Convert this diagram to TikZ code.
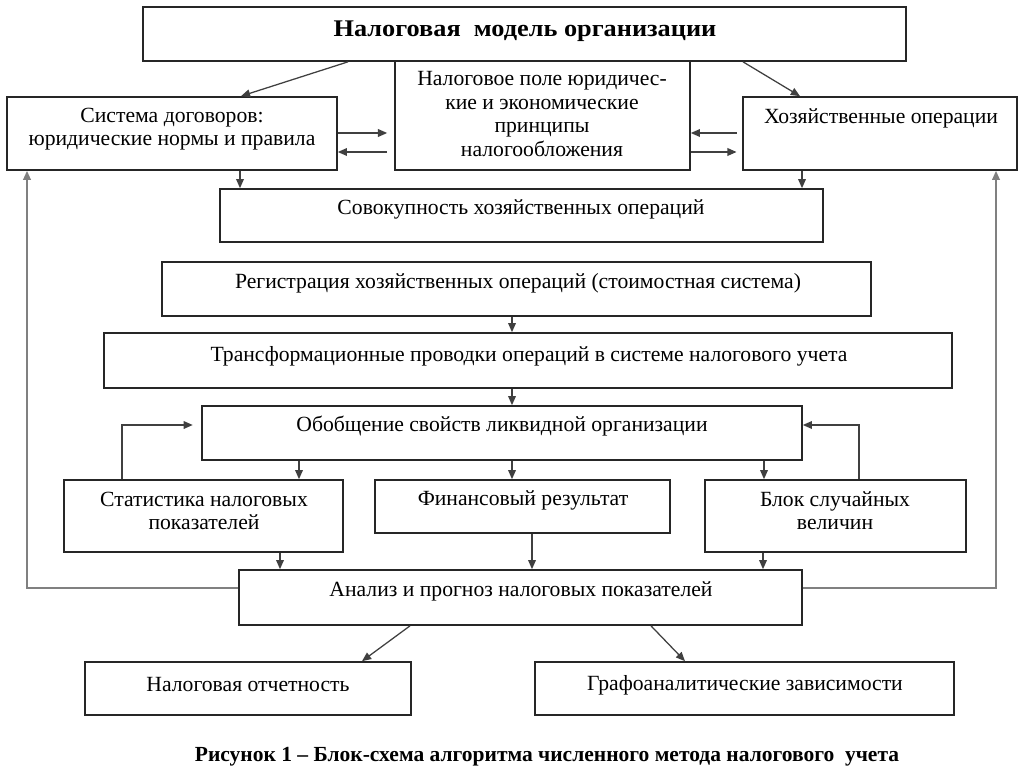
\documentclass[tikz,border=0pt]{standalone}
\usepackage{fontspec}
\setmainfont{Liberation Serif}
\usetikzlibrary{arrows.meta,fit}

\tikzset{
  box/.style={draw=black!85, line width=1.2pt, inner sep=0pt},
  txt/.style={align=center, inner sep=0pt, font=\fontsize{15.4}{16.5}\selectfont},
  arr/.style={-{Triangle[length=6.5pt,width=5.5pt]}, line width=0.9pt, draw=black!75},
  back/.style={arr, draw=black!50, line width=1.2pt},
}

\begin{document}
\begin{tikzpicture}[x=0.025cm,y=-0.025cm]
   \useasboundingbox (0,0) rectangle (1024,767);
   % boxes
   \node[box, fit={(143,7) (906,61)}] (title) {};
   \node[box, fit={(7,97) (337,170)}] (sys) {};
   \node[box, fit={(395,61) (690,170)}] (field) {};
   \node[box, fit={(743,97) (1017,170)}] (ops) {};
   \node[box, fit={(220,189) (823,242)}] (sum) {};
   \node[box, fit={(162,262) (871,316)}] (reg) {};
   \node[box, fit={(104,333) (952,388)}] (trans) {};
   \node[box, fit={(202,406) (802,460)}] (gen) {};
   \node[box, fit={(64,480) (343,552)}] (stat) {};
   \node[box, fit={(375,480) (670,533)}] (fin) {};
   \node[box, fit={(705,480) (966,552)}] (rand) {};
   \node[box, fit={(239,570) (802,625)}] (an) {};
   \node[box, fit={(85,662) (411,715)}] (rep) {};
   \node[box, fit={(535,662) (954,715)}] (graph) {};
   % texts
   \node[txt, font=\fontsize{17}{19}\selectfont\bfseries] (titlet) at (525,31) {\scalebox{1.1}[1]{Налоговая\ \ модель организации}};
   \node[txt] (syst) at (172,129) {Система договоров:\\юридические нормы и правила};
   \node[txt, font=\fontsize{15.4}{17}\selectfont] (fieldt) at (542,114) {Налоговое поле юридичес-\\кие и экономические\\принципы\\налогообложения};
   \node[txt] (opst) at (881,118) {Хозяйственные операции};
   \node[txt] (sumt) at (521,209) {Совокупность хозяйственных операций};
   \node[txt] (regt) at (518,283) {Регистрация хозяйственных операций (стоимостная система)};
   \node[txt] (transt) at (529,356) {Трансформационные проводки операций в системе налогового учета};
   \node[txt] (gent) at (502,426) {Обобщение свойств ликвидной организации};
   \node[txt] (statt) at (204,511) {Статистика налоговых\\показателей};
   \node[txt] (fint) at (523,500) {Финансовый результат};
   \node[txt] (randt) at (835,511) {Блок случайных\\величин};
   \node[txt] (ant) at (521,591) {Анализ и прогноз налоговых показателей};
   \node[txt] (rept) at (248,685) {Налоговая отчетность};
   \node[txt] (grapht) at (745,685) {Графоаналитические зависимости};
   \node[txt, font=\fontsize{15.3}{17}\selectfont\bfseries, anchor=base] (cap) at (547,761) {Рисунок 1 – Блок-схема алгоритма численного метода налогового\ \ учета};
   % connectors
   \draw[arr] (title.south -| 348,0) -- (sys.north -| 241,0);
   \draw[arr] (title.south -| 743,0) -- (ops.north -| 800,0);
   \draw[arr, shorten >=5pt] (sys.east |- 0,133) -- (field.west |- 0,133);
   \draw[arr, shorten <=5pt] (field.west |- 0,152) -- (sys.east |- 0,152);
   \draw[arr, shorten <=4pt] (ops.west |- 0,133) -- (field.east |- 0,133);
   \draw[arr, shorten >=4pt] (field.east |- 0,152) -- (ops.west |- 0,152);
   \draw[arr] (sys.south -| 240,0) -- (sum.north -| 240,0);
   \draw[arr] (ops.south -| 802,0) -- (sum.north -| 802,0);
   \draw[arr] (reg.south -| 512,0) -- (trans.north -| 512,0);
   \draw[arr] (trans.south -| 512,0) -- (gen.north -| 512,0);
   \draw[arr] (gen.south -| 299,0) -- (stat.north -| 299,0);
   \draw[arr] (gen.south -| 512,0) -- (fin.north -| 512,0);
   \draw[arr] (gen.south -| 764,0) -- (rand.north -| 764,0);
   \draw[arr, shorten >=6pt] (stat.north -| 122,0) |- (gen.west |- 0,425);
   \draw[arr] (rand.north -| 859,0) |- (gen.east |- 0,425);
   \draw[arr] (stat.south -| 280,0) -- (an.north -| 280,0);
   \draw[arr] (fin.south -| 532,0) -- (an.north -| 532,0);
   \draw[arr] (rand.south -| 763,0) -- (an.north -| 763,0);
   \draw[back] (an.west |- 0,588) -| (sys.south -| 27,0);
   \draw[back] (an.east |- 0,588) -| (ops.south -| 996,0);
   \draw[arr] (an.south -| 410,0) -- (rep.north -| 362,0);
   \draw[arr] (an.south -| 651,0) -- (graph.north -| 685,0);
\end{tikzpicture}
\end{document}
